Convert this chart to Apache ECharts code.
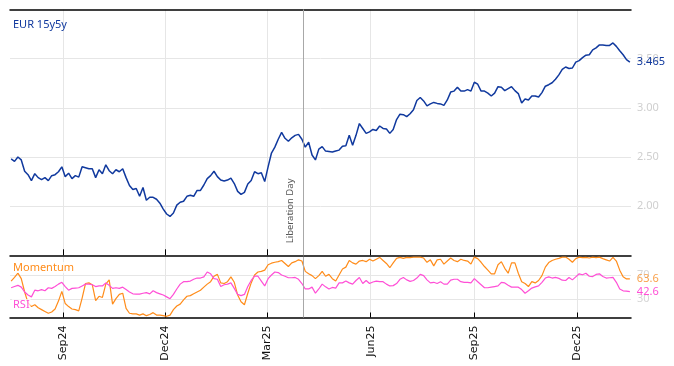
<!DOCTYPE html>
<html><head><meta charset="utf-8">
<script src="https://cdn.jsdelivr.net/npm/echarts@6/dist/echarts.min.js"></script>
<style>html,body{margin:0;padding:0;background:#fff}#c{width:674px;height:366px}</style>
</head><body><div id="c"></div>
<script>
// Sampling: one reading every STEP_DAYS days starting at START_DATE
const START_DATE = [2024, 6, 17];
const STEP_DAYS = 3;

const eurValues = [
  2.48, 2.455, 2.50, 2.47, 2.355, 2.32, 2.26, 2.33, 2.29, 2.27,
  2.29, 2.26, 2.31, 2.32, 2.35, 2.40, 2.30, 2.335, 2.28, 2.31,
  2.295, 2.40, 2.39, 2.38, 2.38, 2.29, 2.37, 2.33, 2.42, 2.36,
  2.33, 2.37, 2.35, 2.38, 2.29, 2.21, 2.17, 2.18, 2.10, 2.19,
  2.06, 2.09, 2.09, 2.07, 2.03, 1.97, 1.92, 1.895, 1.93, 2.01,
  2.04, 2.05, 2.10, 2.11, 2.10, 2.16, 2.16, 2.215, 2.28, 2.31,
  2.355, 2.30, 2.265, 2.255, 2.265, 2.285, 2.23, 2.15, 2.12, 2.14,
  2.225, 2.26, 2.35, 2.33, 2.34, 2.25, 2.40, 2.54, 2.60, 2.68,
  2.75, 2.69, 2.66, 2.695, 2.72, 2.73, 2.68, 2.60, 2.65, 2.52,
  2.47, 2.58, 2.605, 2.56, 2.555, 2.55, 2.56, 2.57, 2.61, 2.615,
  2.72, 2.62, 2.72, 2.84, 2.79, 2.74, 2.755, 2.78, 2.77, 2.815,
  2.79, 2.785, 2.74, 2.78, 2.88, 2.935, 2.93, 2.91, 2.94, 2.98,
  3.075, 3.105, 3.07, 3.02, 3.04, 3.055, 3.045, 3.04, 3.025, 3.08,
  3.16, 3.17, 3.21, 3.17, 3.17, 3.185, 3.17, 3.26, 3.24, 3.17,
  3.17, 3.15, 3.12, 3.15, 3.215, 3.21, 3.175, 3.195, 3.215, 3.175,
  3.145, 3.05, 3.09, 3.08, 3.12, 3.12, 3.11, 3.155, 3.22, 3.235,
  3.255, 3.29, 3.335, 3.39, 3.415, 3.40, 3.405, 3.465, 3.48, 3.51,
  3.535, 3.54, 3.59, 3.61, 3.64, 3.64, 3.635, 3.635, 3.66, 3.625,
  3.58, 3.54, 3.49, 3.465
];

const momentumValues = [
  60, 66, 73, 64, 42, 24, 18, 21, 16, 13,
  10, 7, 9, 14, 27, 43, 23, 18, 14, 13,
  11, 32, 56, 57, 54, 28, 35, 33, 55, 62,
  22, 31, 38, 40, 15, 7, 6, 6, 4, 6,
  3, 5, 8, 4, 4, 3, 2, 4, 13, 19,
  22, 29, 35, 36, 39, 42, 45, 50, 55, 59,
  68, 71, 57, 56, 59, 67, 58, 37, 26, 21,
  40, 57, 70, 75, 76, 78, 87, 89.5, 91, 92,
  94, 89, 84, 90, 92, 95, 93, 76, 72, 69,
  64, 69, 76, 68, 71, 64, 60, 70, 80, 83,
  94, 90, 88, 93, 94, 92, 96, 93, 96, 99,
  94, 89, 82, 90, 97.5, 99, 97.5, 99, 98.5, 99.5,
  99.5, 99.5, 98, 91, 95, 85, 95, 96, 88, 93,
  98, 94, 92, 96, 94, 93, 88, 99.5, 97, 91,
  84, 78, 72, 72, 87, 92, 81, 73, 90, 90,
  73, 59, 56, 51, 59, 57, 61, 69, 83, 90.5,
  94, 96, 97.5, 99.5, 99.5, 96, 91, 97, 99.5, 98.5,
  99, 98, 99.5, 98.5, 99.5, 97, 95, 93, 99, 93,
  78, 67, 63.5, 63.6
];

const rsiValues = [
  49, 51, 53, 50, 42, 37, 34, 45, 44, 46,
  44, 49, 48, 51, 55, 58, 51, 45, 48, 48.5,
  49, 52, 55, 55, 54, 51, 52, 52, 57, 53,
  48, 49, 48, 50, 46, 42, 39, 38.5, 38.5, 40,
  41, 39, 44, 41, 39, 37, 34, 31, 38, 47,
  55, 59, 59, 60, 63, 65, 65, 67, 75, 72,
  64, 63, 51, 54, 55, 57, 48, 38, 36, 38,
  51, 61, 68, 68, 60, 52, 64, 70, 75, 74,
  70, 68, 65.5, 65.5, 66, 63, 56, 47, 47, 50,
  40, 47, 55, 50.5, 47, 49.5, 48.5, 57, 57, 60,
  57, 55, 61, 66, 56, 61, 56, 58.5, 60, 59,
  59, 55, 52, 52.5, 56, 63, 66, 62, 59.5, 61,
  65, 71, 69, 62, 57, 58, 56, 59, 55, 55,
  61.5, 63, 63, 59, 58, 58, 57, 64, 59, 54,
  49, 49, 50, 51, 52, 58, 57, 53, 50, 50,
  50, 46, 40, 44, 48.5, 50.5, 52, 58, 65, 67,
  65, 66, 64.5, 61.5, 61, 66, 62, 67, 72, 70.5,
  73, 68, 67.5, 71, 72, 67.5, 65, 65.5, 66, 58,
  47, 44, 43.5, 42.6
];

const tickDates = ['2024-09-01', '2024-12-01', '2025-03-01', '2025-06-01', '2025-09-01', '2025-12-01'];
const tickLabels = ['Sep24', 'Dec24', 'Mar25', 'Jun25', 'Sep25', 'Dec25'];
const eventDate = '2025-04-02';
const eventLabel = 'Liberation Day';
const axisMinDate = '2024-07-16';
const axisMaxDate = '2026-01-18';
const mainTicks = [2.0, 2.5, 3.0, 3.5];
const indTicks = [30, 70];

function toTime(s) { const p = s.split('-').map(Number); return new Date(p[0], p[1] - 1, p[2]).getTime(); }
const dates = eurValues.map((_, i) => new Date(START_DATE[0], START_DATE[1], START_DATE[2] + STEP_DAYS * i).getTime());
const tickTimes = tickDates.map(toTime);
const xMin = toTime(axisMinDate), xMax = toTime(axisMaxDate);
const evT = toTime(eventDate);

const BLUE = '#10399e', ORANGE = '#ff8c1a', PINK = '#ff4fd6';
const GRID_C = '#e6e6e6';
const FONT = 'Noto Sans';

const chart = echarts.init(document.getElementById('c'), null, { renderer: 'canvas' });

function labelFor(v) {
  let best = -1, bd = Infinity;
  tickTimes.forEach((t, i) => { const d = Math.abs(t - v); if (d < bd) { bd = d; best = i; } });
  return bd < 86400000 ? tickLabels[best] : '';
}

const xBase = {
  type: 'value', min: xMin, max: xMax, scale: true,
  axisLine: { show: true, onZero: false, lineStyle: { color: '#000', width: 1.5 } },
  axisTick: { show: true, inside: true, length: 6, customValues: tickTimes, lineStyle: { color: '#000', width: 1 } },
  splitLine: { show: true, lineStyle: { color: GRID_C, width: 1 } },
  axisLabel: { show: false, customValues: tickTimes, formatter: labelFor }
};

chart.setOption({
  animation: false,
  textStyle: { fontFamily: FONT },
  grid: [
    { left: 10, right: 43, top: 9.5, height: 245.8 },
    { left: 10, right: 43, top: 256.8, height: 60.7 }
  ],
  xAxis: [
    Object.assign({}, xBase, { gridIndex: 0, position: 'bottom' }),
    { type: 'value', gridIndex: 0, position: 'top', min: xMin, max: xMax, scale: true,
      axisLine: { show: true, onZero: false, lineStyle: { color: '#000', width: 1.5 } },
      axisTick: { show: false }, axisLabel: { show: false }, splitLine: { show: false } },
    Object.assign({}, xBase, { gridIndex: 1, position: 'bottom',
      axisTick: { show: true, inside: true, length: 5, customValues: tickTimes, lineStyle: { color: '#000', width: 1 } },
      axisLabel: { show: true, customValues: tickTimes, rotate: 90, margin: 8, color: '#111', fontSize: 11, fontFamily: 'DejaVu Sans',
        formatter: labelFor } })
  ],
  yAxis: [
    { type: 'value', gridIndex: 0, position: 'right', min: 1.5, max: 4.0,
      axisLine: { show: false }, axisTick: { show: false, customValues: mainTicks },
      splitLine: { show: true, lineStyle: { color: GRID_C } },
      axisLabel: { customValues: mainTicks, color: '#cfcfcf', fontSize: 11, margin: 6, formatter: v => v.toFixed(2) } },
    { type: 'value', gridIndex: 1, position: 'right', min: 0, max: 100,
      axisLine: { show: false }, axisTick: { show: false, customValues: indTicks },
      splitLine: { show: true, lineStyle: { color: GRID_C } },
      axisLabel: { customValues: indTicks, color: '#d6d6d6', fontSize: 11, margin: 6 } }
  ],
  series: [
    { type: 'line', name: 'EUR 15y5y', xAxisIndex: 0, yAxisIndex: 0, showSymbol: false,
      data: dates.map((d, i) => [d, eurValues[i]]),
      lineStyle: { color: BLUE, width: 1.5 }, itemStyle: { color: BLUE },
      endLabel: { show: true, color: BLUE, fontSize: 11, distance: 7, formatter: p => p.value[1].toFixed(3) },
      markLine: { silent: true, symbol: 'none', lineStyle: { color: '#a8a8a8', width: 1, type: 'solid' },
        label: { show: true, position: 'insideStartTop', formatter: eventLabel, color: '#555', fontSize: 9.5, distance: [12, 8] },
        data: [{ xAxis: evT }] } },
    { type: 'line', name: 'Momentum', xAxisIndex: 2, yAxisIndex: 1, showSymbol: false,
      data: dates.map((d, i) => [d, momentumValues[i]]),
      lineStyle: { color: ORANGE, width: 1.2 }, itemStyle: { color: ORANGE },
      endLabel: { show: true, color: '#f9a04a', fontSize: 11, distance: 7, formatter: p => p.value[1].toFixed(1) },
      markLine: { silent: true, symbol: 'none', lineStyle: { color: '#a8a8a8', width: 1, type: 'solid' },
        label: { show: false }, data: [{ xAxis: evT }] } },
    { type: 'line', name: 'RSI', xAxisIndex: 2, yAxisIndex: 1, showSymbol: false,
      data: dates.map((d, i) => [d, rsiValues[i]]),
      lineStyle: { color: PINK, width: 1.2 }, itemStyle: { color: PINK },
      endLabel: { show: true, color: PINK, fontSize: 11, distance: 7, formatter: p => p.value[1].toFixed(1) } }
  ],
  graphic: [
    { type: 'text', left: 13, top: 19, z: 10, style: { text: 'EUR 15y5y', fill: BLUE, font: '11px "Noto Sans"' } },
    { type: 'text', left: 12, top: 262, z: 10, style: { text: 'Momentum', fill: ORANGE, font: '11px "Noto Sans"', backgroundColor: 'rgba(255,255,255,0.7)', padding: [0, 1] } },
    { type: 'text', left: 12, top: 299, z: 10, style: { text: 'RSI', fill: PINK, font: '11px "Noto Sans"', backgroundColor: 'rgba(255,255,255,0.7)', padding: [0, 1] } }
  ]
});
</script></body></html>
